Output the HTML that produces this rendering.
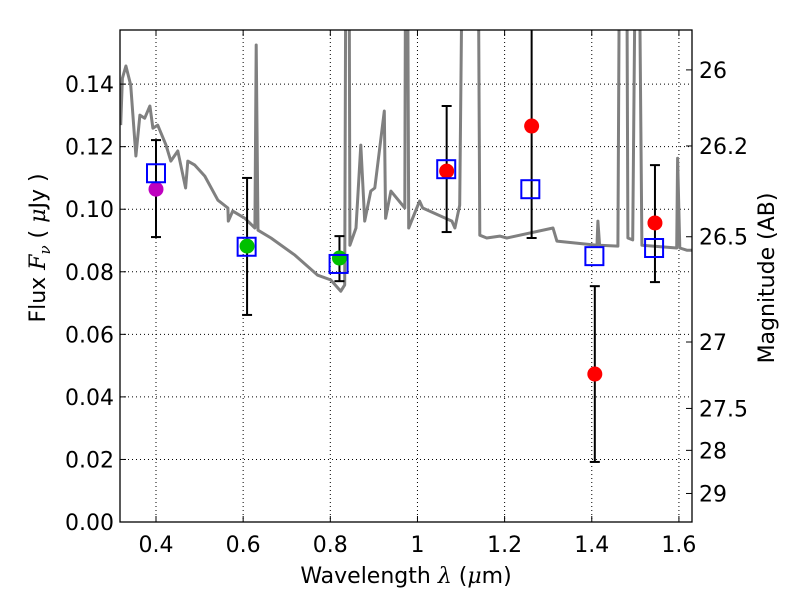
<!DOCTYPE html>
<html><head><meta charset="utf-8"><style>
html,body{margin:0;padding:0;background:#fff;}
svg{display:block;font-family:"DejaVu Sans","Liberation Sans",sans-serif;}
</style></head><body>
<svg id="chart" width="800" height="600" viewBox="0 0 800 600" xmlns="http://www.w3.org/2000/svg"></svg>
<script>
const specX=[0.319,0.323,0.331,0.342,0.354,0.363,0.374,0.386,0.393,0.404,0.423,0.434,0.450,0.468,0.473,0.489,0.512,0.542,0.565,0.566,0.576,0.604,0.627,0.630,0.634,0.664,0.719,0.771,0.801,0.824,0.833,0.836,0.843,0.845,0.859,0.870,0.879,0.893,0.902,0.924,0.927,0.939,0.971,0.973,0.977,0.980,1.005,1.012,1.079,1.086,1.097,1.104,1.139,1.143,1.159,1.189,1.205,1.311,1.320,1.412,1.414,1.418,1.460,1.464,1.480,1.483,1.494,1.501,1.508,1.515,1.595,1.597,1.602,1.618,1.632];
const specY=[0.1269,0.1419,0.1458,0.1397,0.1170,0.1301,0.1291,0.1330,0.1259,0.1269,0.1205,0.1154,0.1186,0.1068,0.1154,0.1141,0.1106,0.1029,0.1004,0.0962,0.0994,0.0971,0.0940,0.1525,0.0933,0.0908,0.0853,0.0789,0.0774,0.0738,0.0758,0.2,0.2,0.0885,0.0940,0.1205,0.0962,0.1058,0.1068,0.1314,0.0971,0.1058,0.1004,0.2,0.2,0.0940,0.1026,0.1004,0.0962,0.0940,0.1013,0.2,0.2,0.0917,0.0908,0.0914,0.0908,0.0940,0.0898,0.0885,0.0962,0.0885,0.0882,0.2,0.2,0.0908,0.0902,0.2,0.2,0.0885,0.0876,0.1163,0.0876,0.0869,0.0869];
const obsX=[0.400,0.609,0.821,1.067,1.262,1.407,1.545];
const obsY=[0.1064,0.0882,0.0844,0.1122,0.1266,0.0473,0.0956];
const errLo=[0.0911,0.0662,0.0770,0.0927,0.0908,0.0192,0.0767];
const errHi=[0.1221,0.1100,0.0914,0.1330,0.1700,0.0754,0.1141];
const obsColor=['#bf00bf','#00c000','#00c000','#ff0000','#ff0000','#ff0000','#ff0000'];
const modelY=[0.1115,0.0880,0.0825,0.1128,0.1064,0.0850,0.0876];
const modelX=[0.400,0.608,0.819,1.066,1.259,1.406,1.543];
const xTicks=[0.4,0.6,0.8,1.0,1.2,1.4,1.6];
const xTickLabels=['0.4','0.6','0.8','1','1.2','1.4','1.6'];
const yTicks=[0,0.02,0.04,0.06,0.08,0.10,0.12,0.14];
const yTickLabels=['0.00','0.02','0.04','0.06','0.08','0.10','0.12','0.14'];
const magTicks=[26,26.2,26.5,27,27.5,28,29];
const magTickLabels=['26','26.2','26.5','27','27.5','28','29'];

const L=120,R=692,T=30,B=522,X0=0.3174,X1=1.6300,Y0=0,Y1=0.1573;
const sx=v=>L+(v-X0)/(X1-X0)*(R-L);
const sy=v=>B-(v-Y0)/(Y1-Y0)*(B-T);
const NS='http://www.w3.org/2000/svg';
const svg=document.getElementById('chart');
function mk(tag,attrs,parent){const e=document.createElementNS(NS,tag);for(const k in attrs)e.setAttribute(k,attrs[k]);(parent||svg).appendChild(e);return e;}

const defs=mk('defs',{});
const cp=mk('clipPath',{id:'clip'},defs);mk('rect',{x:L,y:T,width:R-L,height:B-T},cp);

const grid=mk('g',{stroke:'#000','stroke-width':1,'stroke-dasharray':'1,3'});


xTicks.forEach(v=>mk('line',{x1:sx(v),x2:sx(v),y1:T,y2:B},grid));
yTicks.forEach(v=>mk('line',{x1:L,x2:R,y1:sy(v),y2:sy(v)},grid));

const pts=specX.map((x,i)=>sx(x).toFixed(1)+','+sy(specY[i]).toFixed(1)).join(' ');
const spec=mk('polyline',{points:pts,fill:'none',stroke:'#808080','stroke-width':3,'stroke-linejoin':'round','clip-path':'url(#clip)'});



obsX.forEach((x,i)=>{
  const g=mk('g',{stroke:'#000','stroke-width':2,'clip-path':'url(#clip)'});
  
  
  const X=sx(x);
  mk('line',{x1:X,x2:X,y1:sy(errLo[i]),y2:sy(errHi[i])},g);
  mk('line',{x1:X-5,x2:X+5,y1:sy(errLo[i]),y2:sy(errLo[i])},g);
  mk('line',{x1:X-5,x2:X+5,y1:sy(errHi[i]),y2:sy(errHi[i])},g);
});
obsX.forEach((x,i)=>{
  const c=mk('circle',{cx:sx(x),cy:sy(obsY[i]),r:7.5,fill:obsColor[i]});
  
  
});
modelX.forEach((x,i)=>{
  const s=mk('rect',{x:sx(x)-9,y:sy(modelY[i])-9,width:18,height:18,fill:'none',stroke:'#0000ff','stroke-width':2});
  
  
});

const fr=mk('rect',{x:L,y:T,width:R-L,height:B-T,fill:'none',stroke:'#000','stroke-width':1.3});



const ax=mk('g',{'font-size':'22',fill:'#000'});


xTicks.forEach((v,i)=>{
  const X=sx(v);
  mk('line',{x1:X,x2:X,y1:B,y2:B-6,stroke:'#000'},ax);
  mk('line',{x1:X,x2:X,y1:T,y2:T+6,stroke:'#000'},ax);
  const t=mk('text',{x:X,y:B+30,'text-anchor':'middle'},ax);t.textContent=xTickLabels[i];
  
  
});
yTicks.forEach((v,i)=>{
  const Y=sy(v);
  mk('line',{x1:L,x2:L+6,y1:Y,y2:Y,stroke:'#000'},ax);
  const t=mk('text',{x:L-6,y:Y+8,'text-anchor':'end'},ax);t.textContent=yTickLabels[i];
  
  
});
magTicks.forEach((m,i)=>{
  const Y=sy(Math.pow(10,-(m-23.9)/2.5));
  mk('line',{x1:R,x2:R-6,y1:Y,y2:Y,stroke:'#000'},ax);
  const t=mk('text',{x:R+7,y:Y+8,'text-anchor':'start'},ax);t.textContent=magTickLabels[i];
  
  
});
</script>
<svg style="position:absolute;left:0;top:0" width="800" height="600" font-family="DejaVu Sans, Liberation Sans, sans-serif" font-size="22">
  <text x="406" y="583" text-anchor="middle">Wavelength  <tspan font-style="italic" font-family="DejaVu Serif, Liberation Serif, serif">λ</tspan> (<tspan font-style="italic" font-family="DejaVu Serif, Liberation Serif, serif">μ</tspan>m)</text>
  <text transform="translate(45,248) rotate(-90)" text-anchor="middle">Flux  <tspan font-style="italic" font-family="DejaVu Serif, Liberation Serif, serif">F</tspan><tspan font-style="italic" font-size="15" dy="5" font-family="DejaVu Serif, Liberation Serif, serif">ν</tspan><tspan dy="-5">  (  </tspan><tspan font-style="italic" font-family="DejaVu Serif, Liberation Serif, serif">μ</tspan>Jy )</text>
  <text transform="translate(774,278) rotate(-90)" text-anchor="middle">Magnitude (AB)</text>
</svg>
</body></html>
